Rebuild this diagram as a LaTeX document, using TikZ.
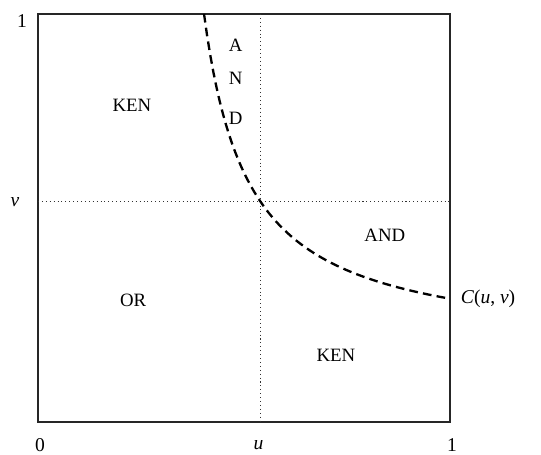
\documentclass[tikz,border=0pt]{standalone}
\usepackage{fontspec}
\setmainfont{Liberation Serif}
\usepackage{tikz}
\usetikzlibrary{positioning,calc}

\begin{document}
\begin{tikzpicture}[x=10cm, y=9.9cm,
    frame/.style={draw=black!85, line width=1.3pt},
    guide/.style={draw=black!80, line width=0.7pt, dotted},
    copula/.style={draw=black, line width=1.6pt, dash pattern=on 6pt off 3.6pt},
    region/.style={font=\fontsize{13}{15}\selectfont, inner sep=1pt},
    tick/.style={font=\fontsize{13.5}{15}\selectfont, inner sep=1pt}]
    \useasboundingbox (-0.0922,-0.0809) rectangle (1.2209,1.0343);
    % unit square
    \draw[frame] (0,0) rectangle (1,1);
    % the point (u,v)
    \coordinate (uv) at (0.54,0.54);
    \draw[guide] (uv |- 0,1) -- (uv |- 0,0);
    \draw[guide] (uv -| 0,0) -- (uv -| 1,0);
    % level curve through (u,v)
    \draw[copula] plot[domain=0.403:1, samples=80] (\x, {0.1749+0.0897/(\x-0.2943)});
    % regions
    \node[region] (kenA) at (0.228,0.777) {KEN};
    \node[region] (a) at (0.480,0.924) {A};
    \node[region] (n) at (0.480,0.843) {N};
    \node[region] (d) at (0.480,0.745) {D};
    \node[region] (and) at (0.842,0.458) {AND};
    \node[region] (or) at (0.231,0.299) {OR};
    \node[region] (kenB) at (0.723,0.164) {KEN};
    % axis labels
    \node[tick] (zero) at (0.005,-0.056) {0};
    \node[tick] (uval) at (0.535,-0.056) {\textit{u}};
    \node[tick] (oneX) at (1.005,-0.056) {1};
    \node[tick] (oneY) at (-0.039,0.982) {1};
    \node[tick] (vval) at (-0.056,0.539) {\textit{v}};
    \node[tick, anchor=west] (cuv) at (1.022,0.302) {\textit{C}(\textit{u}, \textit{v})};
\end{tikzpicture}
\end{document}
